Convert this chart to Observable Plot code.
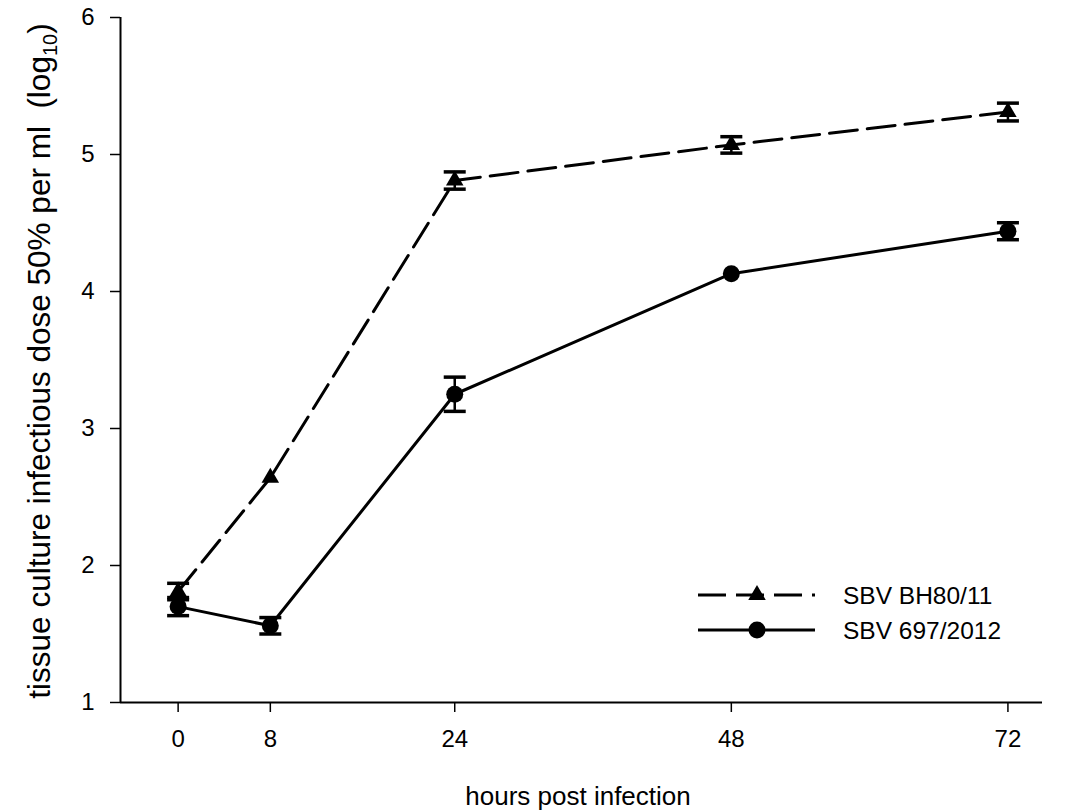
<!DOCTYPE html>
<html>
<head>
<meta charset="utf-8">
<script src="https://cdn.jsdelivr.net/npm/d3@7"></script>
<script src="https://cdn.jsdelivr.net/npm/@observablehq/plot@0.6"></script>
<style>
  html, body { margin: 0; padding: 0; background: #fff; }
  #wrap { position: relative; width: 1073px; height: 811px; }
</style>
</head>
<body>
<div id="wrap"></div>
<script>
// ---- data ----
const hours = [0, 8, 24, 48, 72];
const bh80Mean = [1.81, 2.64, 4.81, 5.07, 5.31];
const bh80Err  = [0.06, 0, 0.063, 0.06, 0.065];
const s697Mean = [1.70, 1.56, 3.25, 4.13, 4.44];
const s697Err  = [0.066, 0.06, 0.125, 0, 0.062];
const seriesNames = ["SBV BH80/11", "SBV 697/2012"];
const yTicks = [1, 2, 3, 4, 5, 6];

const rows = [];
hours.forEach((h, i) => {
  rows.push({series: seriesNames[0], x: h, y: bh80Mean[i], e: bh80Err[i]});
  rows.push({series: seriesNames[1], x: h, y: s697Mean[i], e: s697Err[i]});
});
const errRows = rows.filter(d => d.e > 0);
const bh = rows.filter(d => d.series === seriesNames[0]);
const sv = rows.filter(d => d.series === seriesNames[1]);

const capSymbol = { draw(ctx, size) { ctx.moveTo(-11, 0); ctx.lineTo(11, 0); } };
const FONT = "Liberation Sans, Arial, Helvetica, sans-serif";

const chart = Plot.plot({
  width: 1073,
  height: 811,
  marginLeft: 120,
  marginRight: 31,
  marginTop: 17,
  marginBottom: 109,
  style: { fontFamily: FONT, color: "#000", background: "#fff" },
  x: { domain: [-5, 75], label: null },
  y: { domain: [1, 6], label: null },
  marks: [
    Plot.axisX({ ticks: hours, tickSize: 10, tickFormat: () => "", strokeWidth: 1.5, label: null }),
    Plot.axisY({ ticks: yTicks, tickSize: 10, tickFormat: () => "", strokeWidth: 1.5, label: null }),
    // tick labels
    Plot.text(hours, { x: d => d, frameAnchor: "bottom", dy: 37, lineAnchor: "middle", text: d => String(d), fontSize: 24, fill: "#000" }),
    Plot.text(yTicks, { y: d => d, frameAnchor: "left", dx: -26, textAnchor: "end", lineAnchor: "middle", text: d => String(d), fontSize: 24, fill: "#000" }),
    Plot.ruleY([1], { strokeWidth: 2 }),
    Plot.ruleX([-5], { strokeWidth: 2 }),
    // lines
    Plot.line(bh, { x: "x", y: "y", stroke: "#000", strokeWidth: 3, strokeDasharray: "28,10" }),
    Plot.line(sv, { x: "x", y: "y", stroke: "#000", strokeWidth: 3 }),
    // error bars
    Plot.ruleX(errRows, { x: "x", y1: d => d.y - d.e, y2: d => d.y + d.e, stroke: "#000", strokeWidth: 2.5 }),
    Plot.dot(errRows, { x: "x", y: d => d.y - d.e, symbol: capSymbol, stroke: "#000", strokeWidth: 3.5, fill: "none", r: 5 }),
    Plot.dot(errRows, { x: "x", y: d => d.y + d.e, symbol: capSymbol, stroke: "#000", strokeWidth: 3.5, fill: "none", r: 5 }),
    // markers
    Plot.dot(bh, { x: "x", y: "y", symbol: "triangle", fill: "#000", r: 6.5 }),
    Plot.dot(sv, { x: "x", y: "y", symbol: "circle", fill: "#000", r: 8.5 })
  ]
});

document.getElementById("wrap").appendChild(chart);

const svg = d3.select(chart);

// axis titles
svg.append("text")
  .attr("x", 578).attr("y", 805)
  .attr("text-anchor", "middle")
  .attr("font-family", FONT).style("font-size", "26px").attr("fill", "#000")
  .text("hours post infection");

const yl = svg.append("text")
  .attr("transform", "translate(50,361) rotate(-90)")
  .attr("text-anchor", "middle")
  .attr("font-family", FONT).style("font-size", "31.5px").attr("fill", "#000");
yl.append("tspan").text("tissue culture infectious dose 50% per ml\u00a0\u00a0(log");
yl.append("tspan").style("font-size", "20px").attr("dy", 7).text("10");
yl.append("tspan").attr("dy", -7).text(")");

// legend (inside plot area)
const lg = svg.append("g").attr("font-family", FONT).attr("text-anchor", "start");
const legendItems = [
  { name: seriesNames[0], dash: "28,10", symbol: d3.symbolTriangle, size: Math.PI * 6.5 * 6.5 },
  { name: seriesNames[1], dash: null, symbol: d3.symbolCircle, size: Math.PI * 8.5 * 8.5 }
];
legendItems.forEach((it, i) => {
  const yy = 595 + i * 35;
  lg.append("line").attr("x1", 698).attr("x2", 815).attr("y1", yy).attr("y2", yy)
    .attr("stroke", "#000").attr("stroke-width", 3)
    .attr("stroke-dasharray", it.dash);
  lg.append("path").attr("transform", `translate(757,${yy})`)
    .attr("d", d3.symbol(it.symbol, it.size)()).attr("fill", "#000");
  lg.append("text").attr("x", 843).attr("y", yy).attr("dy", "0.35em")
    .attr("text-anchor", "start")
    .style("font-size", "24.5px").attr("fill", "#000").text(it.name);
});
</script>
</body>
</html>
